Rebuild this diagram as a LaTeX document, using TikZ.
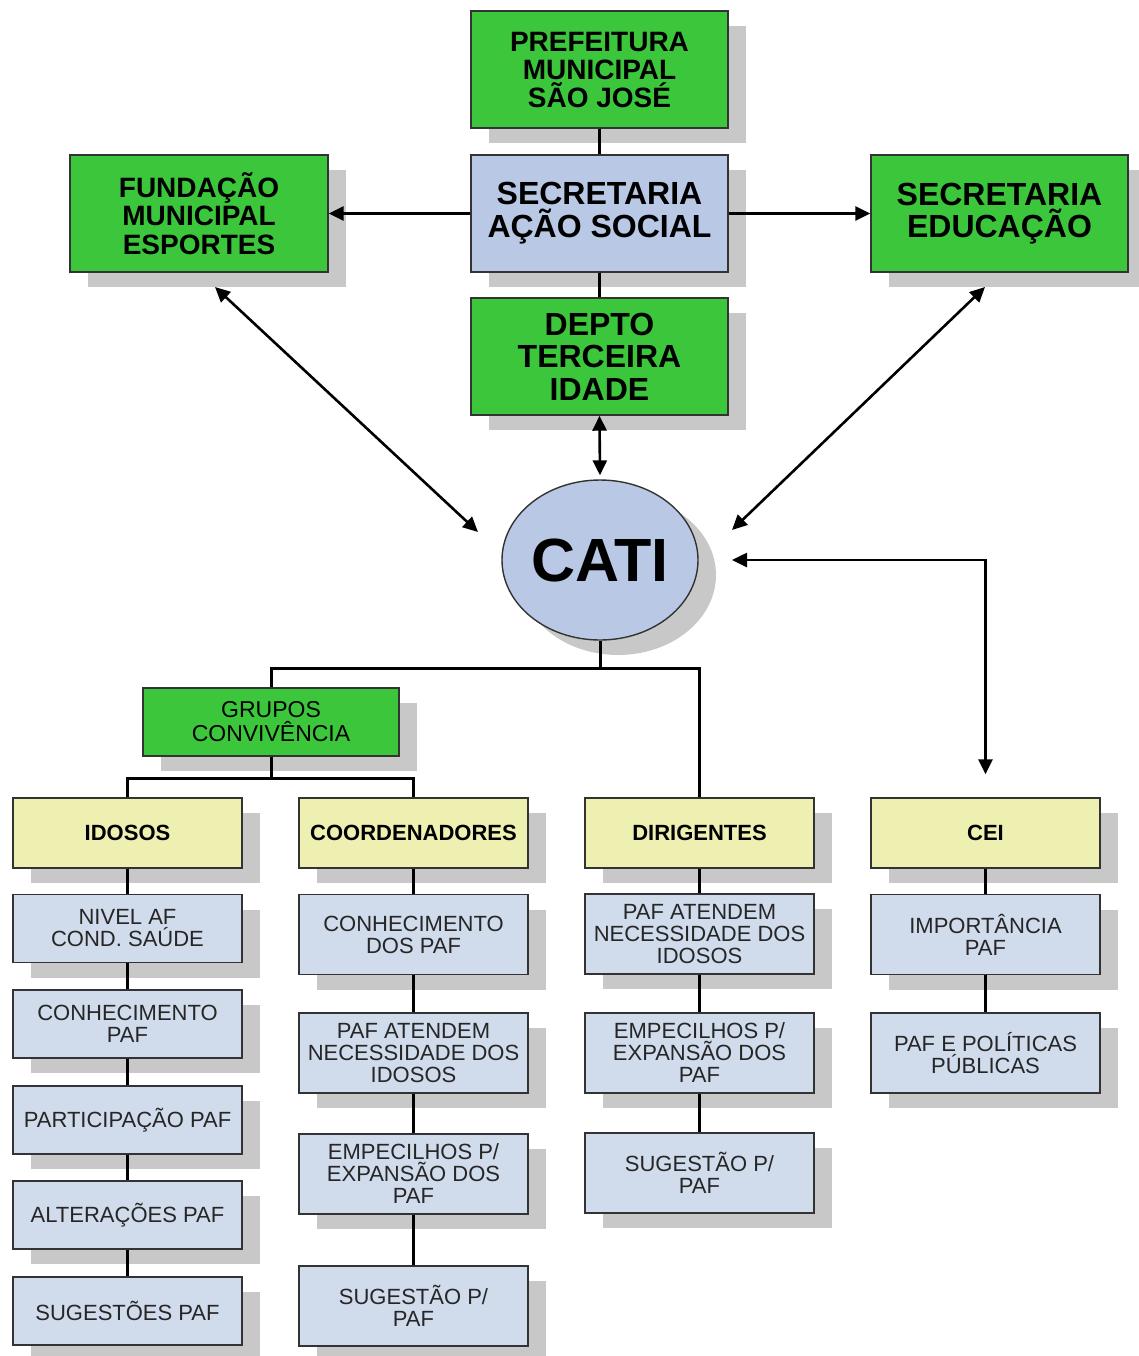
\documentclass[tikz,border=0pt]{standalone}
\usepackage{fontspec}
\setmainfont{Liberation Sans}
\usetikzlibrary{arrows.meta,shadows,shapes.geometric,positioning}

\definecolor{catigreen}{RGB}{60,198,60}
\definecolor{catiblue}{RGB}{185,200,228}
\definecolor{paleblue}{RGB}{208,219,236}
\definecolor{paleyellow}{RGB}{238,240,178}
\definecolor{shadowgray}{RGB}{200,200,200}

\begin{document}
\begin{tikzpicture}[x=0.5pt, y=-0.5pt,
    box/.style={rectangle, draw=black!80, line width=0.7pt, align=center, inner sep=1pt,
      general shadow={fill=shadowgray, shadow xshift=9pt, shadow yshift=-7.5pt}},
    bigbox/.style={box, fill=catigreen, minimum width=128.5pt, minimum height=58.5pt},
    headbox/.style={box, fill=paleyellow, minimum width=114.5pt, minimum height=35pt,
      font=\bfseries\fontsize{11}{11}\selectfont},
    itembox/.style={box, fill=paleblue, minimum width=114.5pt, minimum height=40pt,
      text=black!85, font=\fontsize{11}{11}\selectfont},
    link/.style={line width=1.5pt},
    oneway/.style={line width=1.3pt, -{Triangle[length=7.5pt,width=7pt]}},
    twoway/.style={line width=1.3pt, {Triangle[length=7.5pt,width=7pt]}-{Triangle[length=7.5pt,width=7pt]}}
  ]
  \useasboundingbox (0,0) rectangle (1139,1356);

  % top of the hierarchy
  \node (pref)  [bigbox, font=\bfseries\fontsize{14}{14}\selectfont] at (599.5,69.5)
        {PREFEITURA\\MUNICIPAL\\SÃO JOSÉ};
  \node (secr)  [bigbox, fill=catiblue, font=\bfseries\fontsize{16}{16.5}\selectfont] at (599.5,213.5)
        {SECRETARIA\\AÇÃO SOCIAL};
  \node (depto) [bigbox, font=\bfseries\fontsize{16}{16.25}\selectfont] at (599.5,356.5)
        {DEPTO\\TERCEIRA\\IDADE};
  \node (fund)  [bigbox, minimum width=129pt, font=\bfseries\fontsize{14}{14.25}\selectfont] at (199,213.5)
        {FUNDAÇÃO\\MUNICIPAL\\ESPORTES};
  \node (educ)  [bigbox, font=\bfseries\fontsize{16}{16}\selectfont] at (999.5,213.5)
        {SECRETARIA\\EDUCAÇÃO};

  % centre
  \node (cati) [ellipse, draw=black!80, line width=0.7pt, fill=catiblue, inner sep=0pt,
        minimum width=98pt, minimum height=80pt,
        general shadow={fill=shadowgray, shadow xshift=9pt, shadow yshift=-7.5pt},
        font=\bfseries\fontsize{30.5}{30.5}\selectfont] at (600,560) {CATI};

  \node (grupos) [box, fill=catigreen, minimum width=128pt, minimum height=34pt,
        font=\fontsize{11.5}{12}\selectfont] at (271,722) {GRUPOS\\CONVIVÊNCIA};

  % headers
  \node (idosos) [headbox] at (127.5,833) {IDOSOS};
  \node (coord)  [headbox] at (413.5,833) {COORDENADORES};
  \node (dirig)  [headbox] at (699.5,833) {DIRIGENTES};
  \node (cei)    [headbox] at (985.5,833) {CEI};

  % idosos
  \node (id1) [itembox, minimum height=34pt] at (127.5,928.5) {NIVEL AF\\COND. SAÚDE};
  \node (id2) [itembox, minimum height=34pt] at (127.5,1024)  {CONHECIMENTO\\PAF};
  \node (id3) [itembox, minimum height=34pt] at (127.5,1120)  {PARTICIPAÇÃO PAF};
  \node (id4) [itembox, minimum height=34pt] at (127.5,1215)  {ALTERAÇÕES PAF};
  \node (id5) [itembox, minimum height=34pt] at (127.5,1311)  {SUGESTÕES PAF};

  % coordenadores
  \node (co1) [itembox] at (413.5,934.5) {CONHECIMENTO\\DOS PAF};
  \node (co2) [itembox] at (413.5,1053)  {PAF ATENDEM\\NECESSIDADE DOS\\IDOSOS};
  \node (co3) [itembox] at (413.5,1174)  {EMPECILHOS P/\\EXPANSÃO DOS\\PAF};
  \node (co4) [itembox] at (413.5,1306)  {SUGESTÃO P/\\PAF};

  % dirigentes
  \node (di1) [itembox] at (699.5,934)  {PAF ATENDEM\\NECESSIDADE DOS\\IDOSOS};
  \node (di2) [itembox] at (699.5,1053) {EMPECILHOS P/\\EXPANSÃO DOS\\PAF};
  \node (di3) [itembox] at (699.5,1173) {SUGESTÃO P/\\PAF};

  % cei
  \node (ce1) [itembox] at (985.5,934.5) {IMPORTÂNCIA\\PAF};
  \node (ce2) [itembox] at (985.5,1053)  {PAF E POLÍTICAS\\PÚBLICAS};

  % branching points and loose arrow ends
  \coordinate (split)   at (600,668);
  \coordinate (gsplit)  at (271,778);
  \coordinate (fundtip) at (215,287);
  \coordinate (catinw)  at (478,532);
  \coordinate (eductip) at (985,287);
  \coordinate (catine)  at (732,530);
  \coordinate (catie)   at (732,560);

  % links
  \draw [link] (pref) -- (secr);
  \draw [link] (secr) -- (depto);
  \draw [link] (cati.south) -- (split) -| (grupos.north);
  \draw [link] (split) -| (dirig.north);
  \draw [link] (grupos.south) -- (gsplit) -| (idosos.north);
  \draw [link] (gsplit) -| (coord.north);

  \draw [link] (idosos) -- (id1) (id1) -- (id2) (id2) -- (id3) (id3) -- (id4) (id4) -- (id5);
  \draw [link] (coord) -- (co1) (co1) -- (co2) (co2) -- (co3) (co3) -- (co4);
  \draw [link] (dirig) -- (di1) (di1) -- (di2) (di2) -- (di3);
  \draw [link] (cei) -- (ce1) (ce1) -- (ce2);

  % arrows
  \draw [oneway] (secr.west) -- (fund.east);
  \draw [oneway] (secr.east) -- (educ.west);
  \draw [twoway, shorten >=2pt] (depto.south) -- (cati.north);
  \draw [twoway] (fundtip) -- (catinw);
  \draw [twoway] (eductip) -- (catine);
  \draw [twoway, shorten >=11.5pt] (catie) -| (cei.north);
\end{tikzpicture}
\end{document}
